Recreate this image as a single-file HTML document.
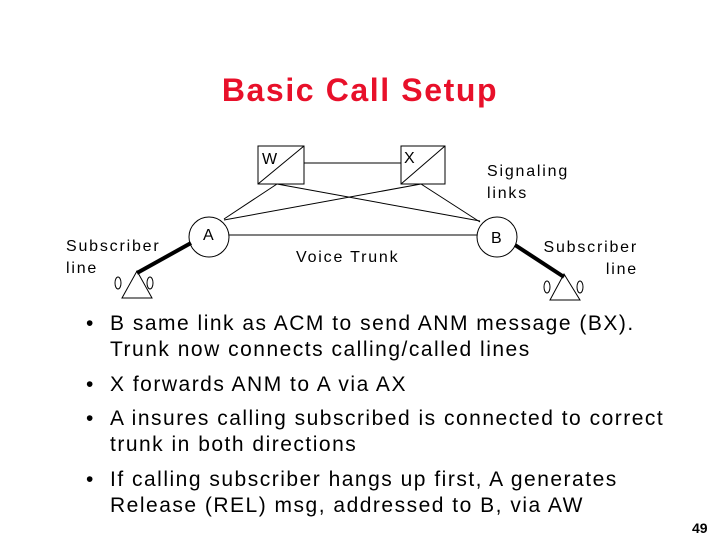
<!DOCTYPE html>
<html><head><meta charset="utf-8"><style>
body{margin:0;background:#fff;width:720px;height:540px;overflow:hidden;position:relative;font-family:"Liberation Sans",sans-serif;}
.t{position:absolute;white-space:nowrap;}
.title{left:0;width:720px;text-align:center;top:72px;font-size:32px;font-weight:bold;color:#e8102a;letter-spacing:1.6px;}
.b{position:absolute;left:86px;font-size:21px;color:#000;}
.b span{position:absolute;left:24px;white-space:nowrap;letter-spacing:1.5px;}
</style></head><body>
<div class="t title">Basic Call Setup</div>
<svg width="720" height="540" style="position:absolute;left:0;top:0" font-family="Liberation Sans, sans-serif" font-size="16">
<g stroke="#000" fill="none" stroke-width="1">
<rect x="258" y="146" width="46" height="38"/>
<line x1="258" y1="184" x2="304" y2="146"/>
<rect x="401" y="146" width="44" height="38"/>
<line x1="401" y1="184" x2="445" y2="146"/>
<line x1="304" y1="163" x2="401" y2="163"/>
<line x1="277" y1="184" x2="224" y2="219"/>
<line x1="277" y1="184" x2="480" y2="221"/>
<line x1="421" y1="184" x2="224" y2="220"/>
<line x1="421" y1="184" x2="480" y2="222"/>
<circle cx="209" cy="237" r="20"/>
<circle cx="497" cy="237" r="20"/>
<line x1="229" y1="235" x2="477" y2="235"/>
<polygon points="137,271 122,298 152,298"/>
<ellipse cx="118" cy="283" rx="3" ry="6"/>
<ellipse cx="150" cy="283" rx="3" ry="6"/>
<polygon points="564,274 550,300 580,300"/>
<ellipse cx="547" cy="287" rx="3" ry="6"/>
<ellipse cx="580" cy="287" rx="3" ry="6"/>
</g>
<g stroke="#000" stroke-width="4">
<line x1="191" y1="243" x2="137" y2="273"/>
<line x1="515" y1="245" x2="564" y2="277"/>
</g>
<g letter-spacing="1.8">
<text x="262" y="164">W</text>
<text x="404" y="163">X</text>
<text x="203" y="240">A</text>
<text x="491" y="243">B</text>
<text x="66" y="251">Subscriber</text>
<text x="66" y="273">line</text>
<text x="296" y="262">Voice Trunk</text>
<text x="487" y="176">Signaling</text>
<text x="487" y="198">links</text>
<text x="638" y="252" text-anchor="end">Subscriber</text>
<text x="638" y="274" text-anchor="end">line</text>
</g>
<text x="692" y="533" font-size="14" font-weight="bold">49</text>
</svg>
<div class="b" style="top:312px">•<span>B same link as ACM to send ANM message (BX).</span></div>
<div class="b" style="top:338px"><span>Trunk now connects calling/called lines</span></div>
<div class="b" style="top:373px">•<span>X forwards ANM to A via AX</span></div>
<div class="b" style="top:407px">•<span>A insures calling subscribed is connected to correct</span></div>
<div class="b" style="top:433px"><span>trunk in both directions</span></div>
<div class="b" style="top:468px">•<span>If calling subscriber hangs up first, A generates</span></div>
<div class="b" style="top:494px"><span>Release (REL) msg, addressed to B, via AW</span></div>
</body></html>
